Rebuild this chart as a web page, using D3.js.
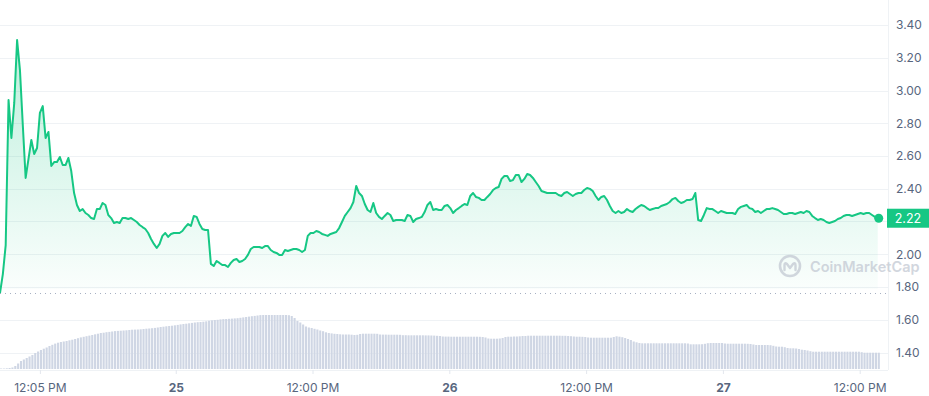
<!DOCTYPE html>
<html>
<head>
<meta charset="utf-8">
<script src="https://cdn.jsdelivr.net/npm/d3@7"></script>
<style>
  body { margin: 0; background: #fff; }
  svg { display: block; font-family: Inter, "Noto Sans", sans-serif; }
</style>
</head>
<body>
<svg id="chart" width="929" height="396"></svg>
<script>
// one point every 15 minutes, starting on the 24th
const startTime = new Date(2024, 0, 24, 8, 35);
const stepMinutes = 15;

// price (USD)
const prices = [
  1.763, 1.879, 2.056, 2.942, 2.710, 2.924, 3.308, 3.125, 2.789, 2.466,
  2.582, 2.698, 2.612, 2.649, 2.863, 2.905, 2.710, 2.747, 2.539, 2.563,
  2.563, 2.594, 2.545, 2.545, 2.588, 2.508, 2.374, 2.301, 2.264, 2.276,
  2.252, 2.240, 2.221, 2.215, 2.276, 2.276, 2.313, 2.301, 2.240, 2.221,
  2.191, 2.197, 2.191, 2.221, 2.221, 2.215, 2.221, 2.209, 2.197, 2.179,
  2.166, 2.154, 2.130, 2.093, 2.063, 2.038, 2.063, 2.112, 2.130, 2.106,
  2.124, 2.130, 2.130, 2.130, 2.142, 2.166, 2.185, 2.173, 2.234, 2.228,
  2.185, 2.154, 2.148, 2.148, 1.941, 1.928, 1.959, 1.947, 1.934, 1.934,
  1.922, 1.947, 1.965, 1.971, 1.953, 1.959, 1.971, 1.996, 2.032, 2.044,
  2.044, 2.044, 2.038, 2.050, 2.050, 2.026, 2.014, 2.008, 1.996, 1.996,
  2.026, 2.020, 2.026, 2.032, 2.032, 2.026, 2.014, 2.026, 2.112, 2.130,
  2.130, 2.142, 2.136, 2.124, 2.118, 2.112, 2.124, 2.130, 2.136, 2.160,
  2.197, 2.234, 2.258, 2.282, 2.319, 2.417, 2.374, 2.356, 2.307, 2.270,
  2.258, 2.313, 2.252, 2.228, 2.215, 2.234, 2.252, 2.240, 2.203, 2.209,
  2.209, 2.209, 2.203, 2.240, 2.234, 2.197, 2.215, 2.221, 2.228, 2.258,
  2.301, 2.319, 2.270, 2.276, 2.270, 2.270, 2.295, 2.301, 2.282, 2.252,
  2.270, 2.282, 2.295, 2.307, 2.301, 2.356, 2.374, 2.350, 2.344, 2.331,
  2.331, 2.350, 2.368, 2.392, 2.405, 2.411, 2.460, 2.478, 2.478, 2.447,
  2.453, 2.484, 2.484, 2.441, 2.460, 2.490, 2.484, 2.466, 2.441, 2.417,
  2.386, 2.380, 2.374, 2.374, 2.374, 2.374, 2.362, 2.356, 2.374, 2.380,
  2.368, 2.356, 2.368, 2.374, 2.374, 2.392, 2.405, 2.399, 2.386, 2.356,
  2.331, 2.350, 2.356, 2.331, 2.295, 2.264, 2.252, 2.264, 2.252, 2.258,
  2.276, 2.264, 2.258, 2.276, 2.289, 2.301, 2.295, 2.282, 2.270, 2.276,
  2.282, 2.282, 2.295, 2.301, 2.307, 2.319, 2.337, 2.344, 2.325, 2.313,
  2.319, 2.331, 2.331, 2.337, 2.374, 2.209, 2.203, 2.240, 2.282, 2.276,
  2.276, 2.264, 2.252, 2.264, 2.258, 2.252, 2.252, 2.252, 2.246, 2.276,
  2.289, 2.295, 2.301, 2.282, 2.276, 2.258, 2.264, 2.252, 2.264, 2.276,
  2.276, 2.282, 2.276, 2.270, 2.258, 2.246, 2.246, 2.252, 2.252, 2.246,
  2.252, 2.258, 2.252, 2.264, 2.258, 2.234, 2.221, 2.209, 2.215, 2.209,
  2.197, 2.191, 2.197, 2.203, 2.215, 2.221, 2.234, 2.240, 2.240, 2.234,
  2.240, 2.246, 2.252, 2.246, 2.252, 2.252, 2.240, 2.228, 2.220
];

// 24h volume (arbitrary units, only drawn as bars)
const volumes = [
  5, 5, 7, 10, 15, 30, 55, 80, 95, 110,
  125, 140, 160, 175, 190, 203, 215, 230, 242, 254,
  263, 270, 275, 280, 287, 293, 300, 308, 316, 322,
  328, 334, 340, 347, 353, 360, 363, 368, 371, 375,
  379, 381, 383, 385, 387, 390, 393, 394, 395, 397,
  400, 403, 405, 408, 411, 415, 420, 423, 427, 430,
  433, 437, 441, 446, 450, 453, 457, 461, 465, 468,
  470, 473, 477, 483, 487, 490, 492, 496, 499, 500,
  502, 504, 506, 508, 512, 516, 520, 524, 528, 531,
  535, 539, 540, 540, 540, 540, 540, 540, 540, 540,
  540, 538, 530, 510, 480, 465, 445, 425, 415, 410,
  402, 395, 385, 378, 367, 360, 356, 352, 350, 347,
  345, 345, 345, 343, 340, 342, 350, 353, 353, 353,
  353, 353, 352, 345, 344, 344, 343, 343, 343, 343,
  342, 338, 338, 337, 337, 337, 337, 337, 337, 336,
  336, 335, 334, 332, 330, 325, 324, 324, 323, 323,
  323, 323, 323, 323, 323, 323, 323, 323, 322, 320,
  315, 305, 303, 303, 303, 305, 310, 320, 323, 323,
  325, 325, 327, 330, 330, 333, 333, 333, 333, 333,
  333, 333, 333, 333, 333, 333, 333, 332, 332, 330,
  328, 325, 323, 323, 322, 320, 315, 313, 313, 313,
  313, 313, 313, 313, 313, 320, 327, 323, 318, 310,
  300, 290, 275, 267, 260, 257, 257, 257, 257, 257,
  257, 257, 257, 257, 257, 257, 257, 257, 257, 257,
  257, 255, 247, 247, 247, 247, 248, 252, 258, 260,
  260, 260, 260, 260, 255, 253, 253, 253, 253, 253,
  253, 253, 252, 250, 245, 240, 240, 240, 240, 240,
  238, 232, 225, 223, 223, 218, 210, 207, 207, 205,
  200, 193, 190, 185, 178, 173, 173, 173, 173, 173,
  173, 173, 173, 173, 173, 173, 173, 173, 173, 173,
  173, 173, 168, 163, 163, 163, 163, 163, 163
];

const priceTicks = [1.4, 1.6, 1.8, 2.0, 2.2, 2.4, 2.6, 2.8, 3.0, 3.2, 3.4];
const timeTicks = [
  new Date(2024, 0, 24, 12, 5),
  new Date(2024, 0, 25, 0, 0),
  new Date(2024, 0, 25, 12, 0),
  new Date(2024, 0, 26, 0, 0),
  new Date(2024, 0, 26, 12, 0),
  new Date(2024, 0, 27, 0, 0),
  new Date(2024, 0, 27, 12, 0),
];
const lastPriceLabel = "2.22";

const green = "#16c784";
const gridColor = "#eff2f5";
const labelColor = "#58667e";

const data = prices.map((p, i) => ({
  date: d3.timeMinute.offset(startTime, i * stepMinutes),
  price: p,
  volume: volumes[i],
}));

const plotRight = 888,
  axisBottom = 370,
  areaBase = 289;

const svg = d3.select("#chart");

const x_Scale = d3
  .scaleTime()
  .domain([startTime, d3.timeMinute.offset(data[data.length - 1].date, 54)])
  .range([0, plotRight]);

const y_Scale = d3.scaleLinear().domain([1.8, 3.4]).range([287, 25]);

const vol_Scale = d3.scaleLinear().domain([0, 690]).range([369, 300]);

const last = data[data.length - 1];

// GRID
svg
  .append("g")
  .selectAll("line")
  .data(priceTicks)
  .join("line")
  .attr("x1", 0)
  .attr("x2", plotRight)
  .attr("y1", (d) => Math.round(y_Scale(d)) + 0.5)
  .attr("y2", (d) => Math.round(y_Scale(d)) + 0.5)
  .attr("stroke", gridColor)
  .attr("stroke-width", 1);

// right border and bottom line
svg
  .append("line")
  .attr("x1", plotRight + 0.5)
  .attr("x2", plotRight + 0.5)
  .attr("y1", 0)
  .attr("y2", axisBottom)
  .attr("stroke", gridColor);
svg
  .append("line")
  .attr("x1", 0)
  .attr("x2", plotRight)
  .attr("y1", axisBottom + 0.5)
  .attr("y2", axisBottom + 0.5)
  .attr("stroke", gridColor);

// VOLUME BARS
svg
  .append("g")
  .selectAll("rect")
  .data(data)
  .join("rect")
  .attr("x", (d) => x_Scale(d.date))
  .attr("y", (d) => vol_Scale(d.volume))
  .attr("width", 2.1)
  .attr("height", (d) => vol_Scale(0) - vol_Scale(d.volume))
  .attr("fill", "#cfd6e4");

// AREA GRADIENT
const defs = svg.append("defs");
const grad = defs
  .append("linearGradient")
  .attr("id", "areaGrad")
  .attr("gradientUnits", "userSpaceOnUse")
  .attr("x1", 0)
  .attr("x2", 0)
  .attr("y1", y_Scale(3.4))
  .attr("y2", areaBase);
grad.append("stop").attr("offset", 0).attr("stop-color", green).attr("stop-opacity", 0.3);
grad.append("stop").attr("offset", 1).attr("stop-color", green).attr("stop-opacity", 0.02);

const area = d3
  .area()
  .x((d) => x_Scale(d.date))
  .y0(areaBase)
  .y1((d) => y_Scale(d.price));

svg.append("path").datum(data).attr("d", area).attr("fill", "url(#areaGrad)");

// dotted line at the opening price
svg
  .append("line")
  .attr("x1", 0)
  .attr("x2", plotRight)
  .attr("y1", Math.round(y_Scale(prices[0])) + 0.5)
  .attr("y2", Math.round(y_Scale(prices[0])) + 0.5)
  .attr("stroke", "#a6b0c3")
  .attr("stroke-dasharray", "1,4");

// WATERMARK
const wm = svg.append("g").attr("transform", "translate(790,266)").attr("opacity", 0.75);
wm.append("circle").attr("r", 10).attr("fill", "none").attr("stroke", "#c3c9d3").attr("stroke-width", 2.6);
wm
  .append("path")
  .attr("d", "M-5.5,4 L-5.5,-1 Q-5.5,-4 -3,-2 L0,2 L3,-2 Q5.5,-4 5.5,-1 L5.5,4")
  .attr("fill", "none")
  .attr("stroke", "#c3c9d3")
  .attr("stroke-width", 2.4)
  .attr("stroke-linejoin", "round")
  .attr("stroke-linecap", "round");
wm
  .append("text")
  .attr("x", 20)
  .attr("y", 5.5)
  .attr("font-size", "14.5px")
  .attr("font-weight", 600)
  .attr("fill", "#c3c9d3")
  .text("CoinMarketCap");

// PRICE LINE
const line = d3
  .line()
  .x((d) => x_Scale(d.date))
  .y((d) => y_Scale(d.price));

svg
  .append("path")
  .datum(data)
  .attr("d", line)
  .attr("fill", "none")
  .attr("stroke", green)
  .attr("stroke-width", 2)
  .attr("stroke-linejoin", "round");

svg
  .append("circle")
  .attr("cx", x_Scale(last.date) + 1)
  .attr("cy", y_Scale(last.price))
  .attr("r", 4.5)
  .attr("fill", green);

// Y AXIS (right) - the label hidden under the price badge is left out
const labelTicks = priceTicks.filter((d) => Math.abs(y_Scale(d) - y_Scale(last.price)) > 12);
const yAxis = svg
  .append("g")
  .attr("transform", `translate(${plotRight + 8},0)`)
  .call(d3.axisRight(y_Scale).tickValues(labelTicks).tickFormat(d3.format(".2f")).tickSize(0))
  .attr("font-family", null)
  .attr("font-size", null);
yAxis.select(".domain").remove();
yAxis.selectAll("text").attr("x", 0).attr("font-size", "12px").attr("fill", labelColor);

// current price badge
svg
  .append("rect")
  .attr("x", plotRight - 1)
  .attr("y", y_Scale(last.price) - 9.5)
  .attr("width", 929 - plotRight + 1)
  .attr("height", 19)
  .attr("fill", green);
svg
  .append("text")
  .attr("x", plotRight + 20)
  .attr("y", y_Scale(last.price))
  .attr("dy", "0.35em")
  .attr("text-anchor", "middle")
  .attr("font-size", "12.5px")
  .attr("fill", "#fff")
  .text(lastPriceLabel);

// X AXIS
const isMidnight = (d) => d.getHours() === 0 && d.getMinutes() === 0;
const xAxis = svg
  .append("g")
  .attr("transform", `translate(0,${axisBottom})`)
  .call(
    d3
      .axisBottom(x_Scale)
      .tickValues(timeTicks)
      .tickSize(4)
      .tickPadding(9)
      .tickFormat((d) => (isMidnight(d) ? d3.timeFormat("%-d")(d) : d3.timeFormat("%-I:%M %p")(d)))
  )
  .attr("font-family", null)
  .attr("font-size", null);
xAxis.select(".domain").remove();
xAxis.selectAll("line").attr("stroke", "#e3e7ee");
xAxis
  .selectAll("text")
  .attr("font-size", "12px")
  .attr("fill", labelColor)
  .attr("font-weight", (d) => (isMidnight(d) ? 700 : 400));
</script>
</body>
</html>
